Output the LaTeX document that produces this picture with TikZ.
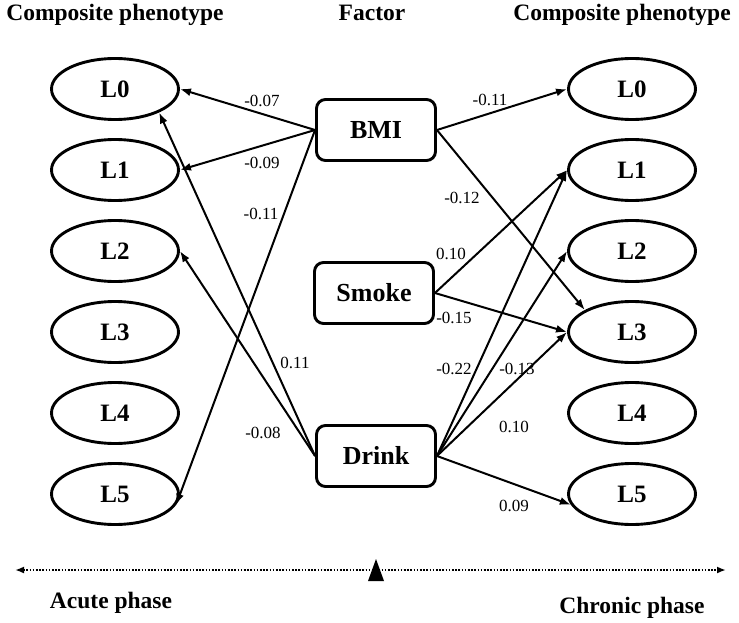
\documentclass[tikz,border=0pt]{standalone}
\usepackage{fontspec}
\setmainfont{Liberation Serif}
\usetikzlibrary{shapes.geometric,arrows.meta}

\tikzset{
  phen/.style={draw, ellipse, line width=2.9pt, minimum width=127pt, minimum height=61pt, inner sep=0pt, font=\fontsize{25}{27}\selectfont\bfseries},
  factor/.style={draw, rounded corners=9pt, line width=2.9pt, minimum width=119pt, minimum height=61pt, inner sep=0pt, font=\fontsize{26}{28}\selectfont\bfseries},
  coef/.style={font=\fontsize{17}{19}\selectfont, inner sep=0pt},
  head/.style={font=\fontsize{23.5}{25}\selectfont\bfseries, inner sep=0pt, anchor=base},
  link/.style={line width=2pt, -{Latex[length=11pt,width=8pt]}},
}

\begin{document}
\begin{tikzpicture}[x=1pt, y=-1pt]
	\useasboundingbox (0,0) rectangle (739,623);
	% column titles
	\node[head] (hleft) at (115,21) {Composite phenotype};
	\node[head] (hmid) at (372,21) {Factor};
	\node[head] (hright) at (622,21) {Composite phenotype};
	% phenotypes, acute (a) and chronic (c)
	\foreach \i/\y in {0/89,1/170,2/251,3/332,4/413,5/494} {
		\node[phen] (a\i) at (115,\y) {L\i};
		\node[phen] (c\i) at (632,\y) {L\i};
	}
	% factors
	\node[factor] (bmi) at (376,130) {BMI};
	\node[factor] (smoke) at (374,293) {Smoke};
	\node[factor] (drink) at (376,456) {Drink};
	% acute side
	\draw[link] (bmi.west) -- (a0.east);
	\draw[link] (bmi.west) -- (a1.east);
	\draw[link] (bmi.west) -- (a5.-10);
	\draw[link] (drink.west) -- (a0.-28);
	\draw[link] (drink.west) -- (a2.east);
	\node[coef] (k1) at (262,101) {-0.07};
	\node[coef] (k2) at (262,163) {-0.09};
	\node[coef] (k3) at (261,214) {-0.11};
	\node[coef] (k4) at (295,363) {0.11};
	\node[coef] (k5) at (263,433) {-0.08};
	% chronic side
	\draw[link] (bmi.east) -- (c0.west);
	\draw[link] (bmi.east) -- (c3.155);
	\draw[link] (smoke.east) -- (c1.west);
	\draw[link] (smoke.east) -- (c3.west);
	\draw[link] (drink.east) -- (c1.west);
	\draw[link] (drink.east) -- (c2.west);
	\draw[link] (drink.east) -- (c3.west);
	\draw[link] (drink.east) -- (c5.190);
	\node[coef] (k6) at (490,100) {-0.11};
	\node[coef] (k7) at (462,198) {-0.12};
	\node[coef] (k8) at (451,254) {0.10};
	\node[coef] (k9) at (454,318) {-0.15};
	\node[coef] (k10) at (454,369) {-0.22};
	\node[coef] (k11) at (517,369) {-0.13};
	\node[coef] (k12) at (514,427) {0.10};
	\node[coef] (k13) at (514,506) {0.09};
	% time axis
	\coordinate (tl) at (15,570);
	\coordinate (tr) at (726,570);
	\draw[line width=1.8pt, dash pattern=on 1.6pt off 1.6pt, {Latex[length=9pt,width=7pt]}-{Latex[length=9pt,width=7pt]}] (tl) -- (tr);
	\fill (376,559) -- (384,581) -- (368,581) -- cycle;
	\node[head] (acute) at (111,608) {Acute phase};
	\node[head] (chronic) at (632,613) {Chronic phase};
\end{tikzpicture}
\end{document}
